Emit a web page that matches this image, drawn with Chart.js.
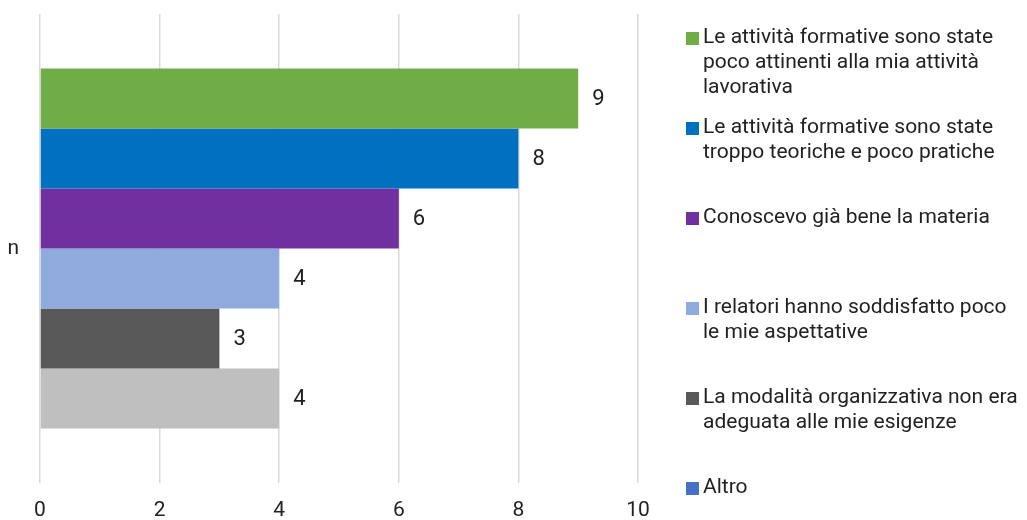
<!DOCTYPE html>
<html>
<head>
<meta charset="utf-8">
<script src="https://cdn.jsdelivr.net/npm/chart.js@4"></script>
<style>
  html, body { margin: 0; padding: 0; background: #fff; }
  #wrap { width: 1027px; height: 520px; }
</style>
</head>
<body>
<div id="wrap"><canvas id="myChart" width="1027" height="520"></canvas></div>
<script>
var categories = ['n']
var seriesNames = [
  ['Le attività formative sono state', 'poco attinenti alla mia attività', 'lavorativa'],
  ['Le attività formative sono state', 'troppo teoriche e poco pratiche'],
  ['Conoscevo già bene la materia'],
  ['I relatori hanno soddisfatto poco', 'le mie aspettative'],
  ['La modalità organizzativa non era', 'adeguata alle mie esigenze'],
  ['Altro']
]
var seriesValues = [9, 8, 6, 4, 3, 4]
var barColors = ['#70AD47', '#0070C0', '#7030A0', '#8FAADC', '#595959', '#BFBFBF']
var legendColors = ['#70AD47', '#0070C0', '#7030A0', '#8FAADC', '#595959', '#4472C4']
var xTicks = [0, 2, 4, 6, 8, 10]

var FONT = 'Roboto'
var TEXT = '#222222'

var datasets = seriesNames.map(function (name, i) {
  return {
    label: name.join(' '),
    data: [seriesValues[i]],
    backgroundColor: barColors[i],
    borderWidth: 0
  }
})

// value labels right of each bar
var valueLabels = {
  id: 'valueLabels',
  afterDatasetsDraw: function (chart) {
    var ctx = chart.ctx
    ctx.save()
    ctx.font = '22px ' + FONT
    ctx.fillStyle = TEXT
    ctx.textAlign = 'left'
    ctx.textBaseline = 'middle'
    chart.data.datasets.forEach(function (ds, i) {
      var bar = chart.getDatasetMeta(i).data[0]
      ctx.fillText(String(ds.data[0]), bar.x + 14, bar.y + 1)
    })
    ctx.restore()
  }
}

// legend on the right, multi-line items in fixed slots
var sideLegend = {
  id: 'sideLegend',
  afterDraw: function (chart) {
    var ctx = chart.ctx
    var x = 686
    var top = 38
    var slot = 90
    var lineH = 25
    ctx.save()
    ctx.font = '21px ' + FONT
    ctx.textAlign = 'left'
    ctx.textBaseline = 'middle'
    seriesNames.forEach(function (lines, i) {
      var y = top + i * slot
      ctx.fillStyle = legendColors[i]
      ctx.fillRect(x, y - 6, 13, 13)
      ctx.fillStyle = TEXT
      lines.forEach(function (t, j) {
        ctx.fillText(t, x + 17, y + j * lineH)
      })
    })
    ctx.restore()
  }
}

var ctx = document.getElementById('myChart').getContext('2d')
var myChart = new Chart(ctx, {
  type: 'bar',
  data: {
    labels: categories,
    datasets: datasets
  },
  options: {
    indexAxis: 'y',
    responsive: false,
    animation: false,
    layout: { padding: { top: 14, right: 389, left: 0, bottom: 0 } },
    datasets: {
      bar: { categoryPercentage: 0.768, barPercentage: 1 }
    },
    plugins: {
      legend: { display: false },
      tooltip: { enabled: false }
    },
    scales: {
      x: {
        min: 0,
        max: 10,
        afterBuildTicks: function (scale) {
          scale.ticks = xTicks.map(function (v) { return { value: v } })
        },
        afterFit: function (scale) {
          scale.height = 37
          scale.paddingLeft = 0
          scale.paddingRight = 0
        },
        border: { display: false },
        grid: { color: '#D9D9D9', lineWidth: 1.5, drawTicks: false },
        ticks: {
          padding: 15,
          color: TEXT,
          font: { family: FONT, size: 21 }
        }
      },
      y: {
        afterFit: function (scale) {
          scale.width = 40
          scale.paddingTop = 0
          scale.paddingBottom = 0
        },
        border: { display: false },
        grid: { display: false, drawTicks: false },
        ticks: {
          padding: 21,
          color: TEXT,
          font: { family: FONT, size: 21 }
        }
      }
    }
  },
  plugins: [valueLabels, sideLegend]
})
</script>
</body>
</html>
